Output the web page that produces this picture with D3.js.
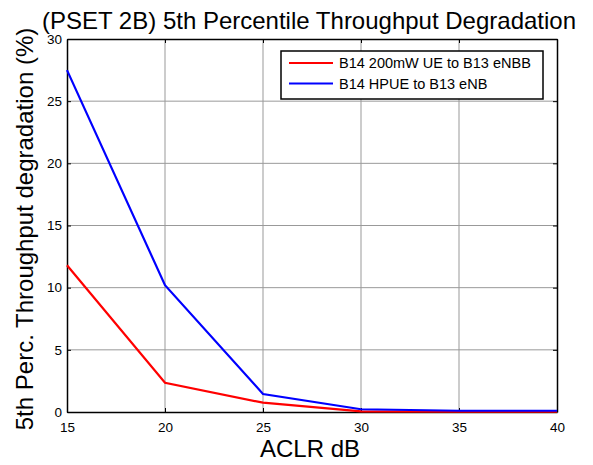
<!DOCTYPE html>
<html lang="en">
<head>
<meta charset="UTF-8">
<title>5th Percentile Throughput Degradation</title>
<script src="https://cdnjs.cloudflare.com/ajax/libs/d3/7.8.5/d3.min.js"></script>
<style>
    body { margin: 0; background: #fff; }
    svg { display: block; font-family: "Liberation Sans", Arial, sans-serif; }
    .tick-label { fill: #000; }
    .grid { stroke: #999; stroke-width: 1; }
</style>
</head>
<body>
<div id="chart"></div>
<script>
    const aclr = [15, 20, 25, 30, 35, 40];
    const ue200mW = [11.8, 2.35, 0.75, 0.05, 0.03, 0.03];
    const hpue = [27.5, 10.2, 1.45, 0.22, 0.1, 0.1];
    const seriesNames = ["B14 200mW UE to B13 eNBB", "B14 HPUE to B13 eNB"];
    const seriesColors = ["#ff0000", "#0000ff"];
    const xTicks = [15, 20, 25, 30, 35, 40];
    const yTicks = [0, 5, 10, 15, 20, 25, 30];

    const width = 593, height = 465;
    const margin = { top: 39, right: 36, bottom: 53, left: 67 };
    const w = width - margin.left - margin.right;
    const h = height - margin.top - margin.bottom;

    const svg = d3.select("#chart").append("svg")
        .attr("width", width)
        .attr("height", height);

    const g = svg.append("g")
        .attr("transform", `translate(${margin.left},${margin.top})`);

    const x = d3.scaleLinear().domain([15, 40]).range([0, w]);
    const y = d3.scaleLinear().domain([0, 30]).range([h, 0]);

    // grid
    g.selectAll(".gx").data(xTicks.slice(1, -1)).enter().append("line")
        .attr("class", "grid")
        .attr("x1", d => x(d)).attr("x2", d => x(d))
        .attr("y1", 0).attr("y2", h);
    g.selectAll(".gy").data(yTicks.slice(1, -1)).enter().append("line")
        .attr("class", "grid")
        .attr("x1", 0).attr("x2", w)
        .attr("y1", d => y(d)).attr("y2", d => y(d));

    // axes, ticks pointing inward on all sides
    const tickLen = 4;
    const axBottom = g.append("g").attr("transform", `translate(0,${h})`)
        .call(d3.axisBottom(x).tickValues(xTicks).tickSizeInner(-tickLen).tickSizeOuter(0).tickPadding(10));
    const axLeft = g.append("g")
        .call(d3.axisLeft(y).tickValues(yTicks).tickSizeInner(-tickLen).tickSizeOuter(0).tickPadding(5));
    const axTop = g.append("g")
        .call(d3.axisTop(x).tickValues(xTicks).tickSizeInner(-tickLen).tickSizeOuter(0).tickFormat(""));
    const axRight = g.append("g").attr("transform", `translate(${w},0)`)
        .call(d3.axisRight(y).tickValues(yTicks).tickSizeInner(-tickLen).tickSizeOuter(0).tickFormat(""));

    [axBottom, axLeft, axTop, axRight].forEach(ax => {
        ax.select(".domain").attr("stroke", "#000").attr("stroke-width", 1.5);
        ax.selectAll(".tick line").attr("stroke", "#000");
        ax.selectAll(".tick text").attr("class", "tick-label")
            .style("font-family", "'Liberation Sans', Arial, sans-serif").style("font-size", "13.5px");
    });

    // lines
    const line = d3.line().x(d => x(d[0])).y(d => y(d[1]));
    [ue200mW, hpue].forEach((vals, i) => {
        g.append("path")
            .datum(aclr.map((a, j) => [a, vals[j]]))
            .attr("fill", "none")
            .attr("stroke", seriesColors[i])
            .attr("stroke-width", 2.2)
            .attr("d", line);
    });

    // legend
    const lg = svg.append("g").attr("transform", "translate(281,51)");
    lg.append("rect")
        .attr("width", 262).attr("height", 48)
        .attr("fill", "#fff").attr("stroke", "#000").attr("stroke-width", 1.5);
    seriesNames.forEach((name, i) => {
        const ly = 12 + i * 20.5;
        lg.append("line")
            .attr("x1", 8).attr("x2", 52)
            .attr("y1", ly).attr("y2", ly)
            .attr("stroke", seriesColors[i]).attr("stroke-width", 2);
        lg.append("text")
            .attr("x", 58).attr("y", ly).attr("dy", "0.35em")
            .style("font-size", "14.5px")
            .text(name);
    });

    // title and axis labels
    svg.append("text")
        .attr("x", 309).attr("y", 29)
        .attr("text-anchor", "middle")
        .style("font-size", "24px")
        .text("(PSET 2B) 5th Percentile Throughput Degradation");

    svg.append("text")
        .attr("x", 310).attr("y", 457)
        .attr("text-anchor", "middle")
        .style("font-size", "24px")
        .text("ACLR dB");

    svg.append("text")
        .attr("transform", "translate(33,229) rotate(-90)")
        .attr("text-anchor", "middle")
        .style("font-size", "24px")
        .text("5th Perc. Throughput degradation (%)");
</script>
</body>
</html>
